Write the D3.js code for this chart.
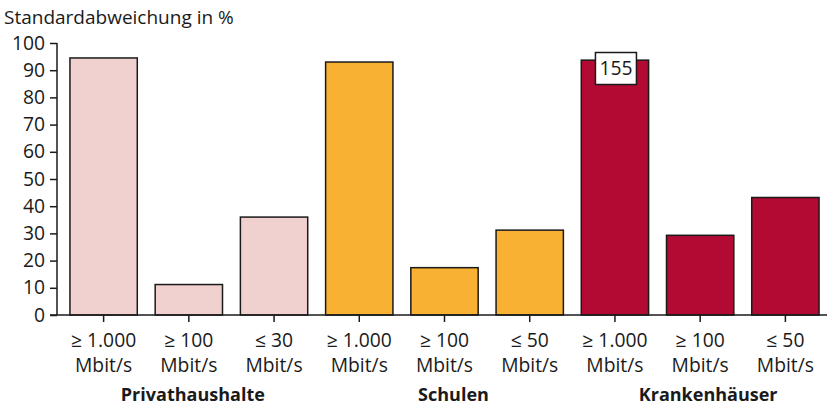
<!DOCTYPE html>
<html><head><meta charset="utf-8">
<script src="https://cdn.jsdelivr.net/npm/d3@7"></script>
<style>
body{margin:0;background:#fff;}
text{font-family:"Open Sans","Noto Sans",sans-serif;fill:#1a1a1a;}
</style></head><body>
<svg id="c" width="835" height="407"></svg>
<script>
const categories = ["≥ 1.000|Mbit/s","≥ 100|Mbit/s","≤ 30|Mbit/s","≥ 1.000|Mbit/s","≥ 100|Mbit/s","≤ 50|Mbit/s","≥ 1.000|Mbit/s","≥ 100|Mbit/s","≤ 50|Mbit/s"];
const values = [94.5, 11.2, 36, 93, 17.4, 31.2, 93.7, 29.3, 43.2];
const groupOf = [0,0,0,1,1,1,2,2,2];
const groups = ["Privathaushalte","Schulen","Krankenhäuser"];
const groupColors = ["#f1d1cf","#f8b133","#b20a33"];
const yTicks = [0,10,20,30,40,50,60,70,80,90,100];
const annotations = [{index:6, label:"155"}];

const svg = d3.select("#c");
const fs = 19.3;
const ff = "'Open Sans','Noto Sans',sans-serif";
const x = d3.scaleBand().domain(d3.range(categories.length)).range([61, 828]).paddingInner(0.21).paddingOuter(0.105);
const y = d3.scaleLinear().domain([0,100]).range([315, 43]);

// bars
svg.selectAll("rect.bar").data(values).join("rect")
  .attr("x",(d,i)=>x(i)).attr("width",x.bandwidth())
  .attr("y",d=>y(d)).attr("height",d=>y(0)-y(d))
  .attr("fill",(d,i)=>groupColors[groupOf[i]])
  .attr("stroke","#1a1a1a").attr("stroke-width",1.5);

// y axis
const yAxis = svg.append("g").attr("transform","translate(57,0)")
  .call(d3.axisLeft(y).tickValues(yTicks).tickSize(7).tickPadding(5));
yAxis.select(".domain").remove();
yAxis.selectAll("line").attr("stroke","#1a1a1a").attr("stroke-width",1.5);
yAxis.selectAll("text").attr("font-size",fs).attr("font-family",ff).attr("fill","#1a1a1a");
svg.append("line").attr("x1",57).attr("x2",57).attr("y1",y(100)).attr("y2",y(0)).attr("stroke","#1a1a1a").attr("stroke-width",1.5);
// x baseline
svg.append("line").attr("x1",50).attr("x2",827).attr("y1",y(0)).attr("y2",y(0)).attr("stroke","#1a1a1a").attr("stroke-width",1.5);

// x ticks
const xAxis = svg.append("g").attr("transform",`translate(0,${y(0)})`)
  .call(d3.axisBottom(x).tickSize(7).tickFormat(""));
xAxis.select(".domain").remove();
xAxis.selectAll("line").attr("stroke","#1a1a1a").attr("stroke-width",1.5);

// x labels
categories.forEach((c,i)=>{
  const [a,b] = c.split("|");
  const cx = x(i)+x.bandwidth()/2;
  const t = svg.append("text").attr("text-anchor","middle").attr("font-size",fs);
  t.append("tspan").attr("x",cx).attr("y",347).text(a);
  t.append("tspan").attr("x",cx).attr("y",372).text(b);
});

// group labels
const groupOffsets = [4, 9, 8];
groups.forEach((g,gi)=>{
  const idx = groupOf.indexOf(gi)+1;
  svg.append("text").attr("x",x(idx)+x.bandwidth()/2+groupOffsets[gi]).attr("y",401)
    .attr("text-anchor","middle").attr("font-size",18).attr("font-weight","bold").text(g);
});

// title
svg.append("text").attr("x",4).attr("y",24).attr("font-size",19).text("Standardabweichung in %");

// annotation
annotations.forEach(a=>{
  const cx = x(a.index)+x.bandwidth()/2+1;
  svg.append("rect").attr("x",cx-20.5).attr("y",52.5).attr("width",41).attr("height",32)
    .attr("fill","#fff").attr("stroke","#1a1a1a").attr("stroke-width",1.5);
  svg.append("text").attr("x",cx).attr("y",75).attr("text-anchor","middle").attr("font-size",fs).text(a.label);
});
</script></body></html>
